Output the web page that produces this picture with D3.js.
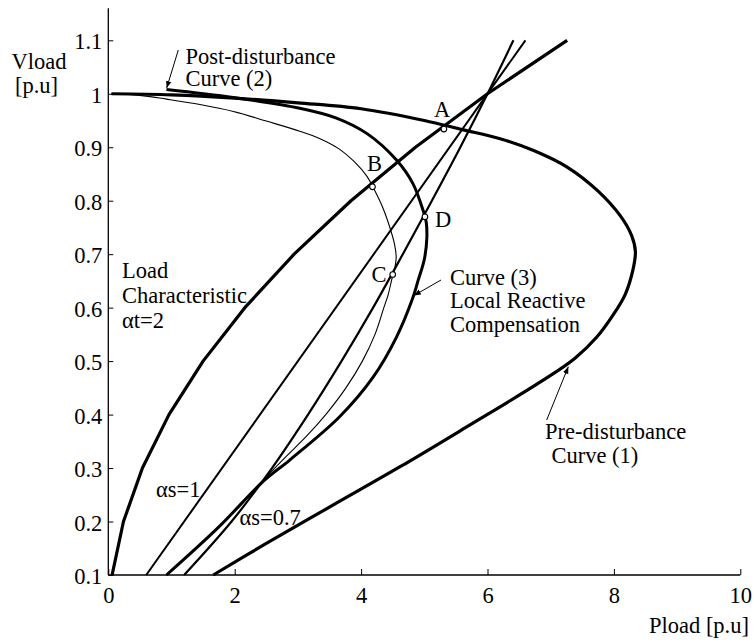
<!DOCTYPE html>
<html>
<head>
<meta charset="utf-8">
<script src="https://cdn.jsdelivr.net/npm/d3@7"></script>
<style>
  html, body { margin: 0; padding: 0; background: #fff; }
  svg { display: block; }
  text { font-family: "Liberation Serif", "Times New Roman", serif; fill: #000; }
</style>
</head>
<body>
<svg id="chart" width="754" height="642"></svg>
<script>
// ---------------- data ----------------
const xTicks = [0, 2, 4, 6, 8, 10];
const yTicks = [0.1, 0.2, 0.3, 0.4, 0.5, 0.6, 0.7, 0.8, 0.9, 1, 1.1];

// Pre-disturbance curve (1)
const preP = [0.05, 1.0, 2.0, 3.0, 4.0, 5.0, 5.6, 6.2, 6.73, 7.26, 7.75, 8.10, 8.28, 8.34, 8.30, 8.18, 7.98, 7.73, 7.38, 6.85, 5.67, 4.61, 3.56, 2.50, 1.66];
const preV = [1.0, 0.998, 0.992, 0.983, 0.972, 0.950, 0.933, 0.916, 0.894, 0.863, 0.818, 0.772, 0.735, 0.705, 0.670, 0.625, 0.585, 0.545, 0.505, 0.462, 0.377, 0.302, 0.231, 0.159, 0.1];

// Post-disturbance curve (2) - thin
const postP = [0.05, 0.5, 0.92, 1.45, 1.98, 2.5, 3.03, 3.35, 3.65, 3.90, 4.09, 4.22, 4.35, 4.46, 4.53, 4.555, 4.53, 4.49, 4.43, 4.36, 4.22, 4.02, 3.76, 3.44, 3.14, 2.80, 2.43, 1.75, 0.92];
const postV = [1.0, 0.997, 0.990, 0.980, 0.967, 0.949, 0.930, 0.916, 0.897, 0.872, 0.846, 0.818, 0.785, 0.748, 0.718, 0.695, 0.672, 0.655, 0.625, 0.600, 0.550, 0.500, 0.450, 0.400, 0.360, 0.320, 0.275, 0.190, 0.1];

// Curve (3) - local reactive compensation
const compP = [0.92, 1.98, 3.03, 3.6, 4.1, 4.56, 4.82, 4.98, 5.03, 5.04, 5.0, 4.9, 4.82, 4.56, 4.19, 3.66, 2.87, 2.45, 1.75, 0.92];
const compV = [1.008, 0.993, 0.973, 0.955, 0.925, 0.876, 0.832, 0.782, 0.760, 0.730, 0.690, 0.650, 0.619, 0.545, 0.470, 0.396, 0.315, 0.275, 0.190, 0.1];

// Load characteristic alpha_t = 2
const loadV = [0.1, 0.2, 0.3, 0.4, 0.5, 0.6, 0.7, 0.8, 0.9, 1.0, 1.1];
const loadP = [0.06, 0.24, 0.54, 0.96, 1.5, 2.16, 2.94, 3.84, 4.86, 6.0, 7.26];

// Static characteristic alpha_s = 1
const as1V = [0.1, 1.1];
const as1P = [0.6, 6.6];

// Static characteristic alpha_s = 0.7
const as07V = [0.1, 0.2, 0.3, 0.4, 0.5, 0.6, 0.7, 0.8, 0.9, 1.0, 1.1];
const as07P = [1.2, 1.95, 2.59, 3.16, 3.69, 4.19, 4.66, 5.12, 5.57, 6.0, 6.41];

// Operating points
const pointNames = ["A", "B", "C", "D"];
const pointP = [5.31, 4.18, 4.50, 5.01];
const pointV = [0.934, 0.826, 0.662, 0.770];

// ---------------- drawing ----------------
const svg = d3.select("#chart");
const x = d3.scaleLinear().domain([0, 10]).range([108.3, 740.3]);
const y = d3.scaleLinear().domain([0.1, 1.1]).range([575, 40.3]);
const FS = 22.5;

const zip = (P, V) => P.map((p, i) => [p, V[i]]);
const lineSmooth = d3.line().x(d => x(d[0])).y(d => y(d[1])).curve(d3.curveCatmullRom.alpha(0.5));
const lineStraight = d3.line().x(d => x(d[0])).y(d => y(d[1]));

// axes
const xAxis = d3.axisBottom(x).tickValues(xTicks).tickSize(-6).tickPadding(14).tickFormat(d3.format("d"));
const gx = svg.append("g").attr("transform", `translate(0,${y(0.1)})`).call(xAxis);
gx.select(".domain").attr("d", `M${x(0)},0H${x(10)}`).attr("stroke", "#000").attr("stroke-width", 1.3);
gx.selectAll(".tick line").attr("stroke", "#000").attr("stroke-width", 1);
gx.selectAll(".tick text").attr("font-size", FS).attr("font-family", "Liberation Serif").attr("dy", null).attr("y", 27.5);

const yAxis = d3.axisLeft(y).tickValues(yTicks).tickSize(-5).tickPadding(6).tickFormat(d => d === 1 ? "1" : d3.format(".1f")(d));
const gy = svg.append("g").attr("transform", `translate(${x(0)},0)`).call(yAxis);
gy.select(".domain").attr("d", `M0,${y(0.1)}V8.3`).attr("stroke", "#000").attr("stroke-width", 1.3);
gy.selectAll(".tick line").attr("stroke", "#000").attr("stroke-width", 1);
gy.selectAll(".tick text").attr("font-size", FS).attr("font-family", "Liberation Serif").attr("dy", null).attr("y", 8.5).attr("x", -6);

// curves
const g = svg.append("g").attr("fill", "none").attr("stroke", "#000").attr("stroke-linejoin", "round").attr("stroke-linecap", "butt");
g.append("path").attr("d", lineSmooth(zip(preP, preV))).attr("stroke-width", 3.2);
g.append("path").attr("d", lineSmooth(zip(postP, postV))).attr("stroke-width", 1.1);
g.append("path").attr("d", lineSmooth(zip(compP, compV))).attr("stroke-width", 3.0);
g.append("path").attr("d", lineStraight(zip(loadP, loadV))).attr("stroke-width", 3.2);
g.append("path").attr("d", lineStraight(zip(as1P, as1V))).attr("stroke-width", 2.0);
g.append("path").attr("d", lineSmooth(zip(as07P, as07V))).attr("stroke-width", 2.2);

// operating point markers
svg.append("g").selectAll("circle").data(pointP).join("circle")
  .attr("cx", d => x(d)).attr("cy", (d, i) => y(pointV[i])).attr("r", 2.8)
  .attr("fill", "#fff").attr("stroke", "#000").attr("stroke-width", 1.1);

// point labels
const labelPos = { A: [442, 117, "middle"], B: [374.5, 170.5, "middle"], C: [379, 281.5, "middle"], D: [443, 226.5, "middle"] };
svg.append("g").selectAll("text").data(pointNames).join("text")
  .attr("x", d => labelPos[d][0]).attr("y", d => labelPos[d][1]).attr("text-anchor", d => labelPos[d][2])
  .attr("font-size", FS).text(d => d);

// annotations
const texts = [
  ["Vload", 11.5, 68.5, "start"],
  ["[p.u]", 15, 93, "start"],
  ["Pload [p.u]", 749, 633, "end"],
  ["Post-disturbance", 185.5, 63.5, "start"],
  ["Curve (2)", 185.5, 86, "start"],
  ["Load", 122, 278, "start"],
  ["Characteristic", 122, 303, "start"],
  ["\u03B1t=2", 122, 327.5, "start"],
  ["Curve (3)", 450, 285, "start"],
  ["Local Reactive", 450, 308, "start"],
  ["Compensation", 450, 332, "start"],
  ["Pre-disturbance", 545, 438.5, "start"],
  ["Curve (1)", 551.5, 463, "start"],
  ["\u03B1s=1", 156, 496.5, "start"],
  ["\u03B1s=0.7", 239.5, 525, "start"]
];
svg.append("g").selectAll("text").data(texts).join("text")
  .attr("x", d => d[1]).attr("y", d => d[2]).attr("text-anchor", d => d[3])
  .attr("font-size", FS).text(d => d[0]);

// arrows
const defs = svg.append("defs");
defs.append("marker").attr("id", "ah").attr("viewBox", "0 0 10 10").attr("refX", 10).attr("refY", 5)
  .attr("markerWidth", 7).attr("markerHeight", 7).attr("markerUnits", "userSpaceOnUse").attr("orient", "auto")
  .append("path").attr("d", "M0,1L10,5L0,9Z").attr("fill", "#000");
const arrows = [
  [178.3, 50, 166.7, 88],
  [441, 280, 414, 295.5],
  [546.7, 420, 568.3, 366.7]
];
svg.append("g").selectAll("line").data(arrows).join("line")
  .attr("x1", d => d[0]).attr("y1", d => d[1]).attr("x2", d => d[2]).attr("y2", d => d[3])
  .attr("stroke", "#000").attr("stroke-width", 1).attr("marker-end", "url(#ah)");
</script>
</body>
</html>
